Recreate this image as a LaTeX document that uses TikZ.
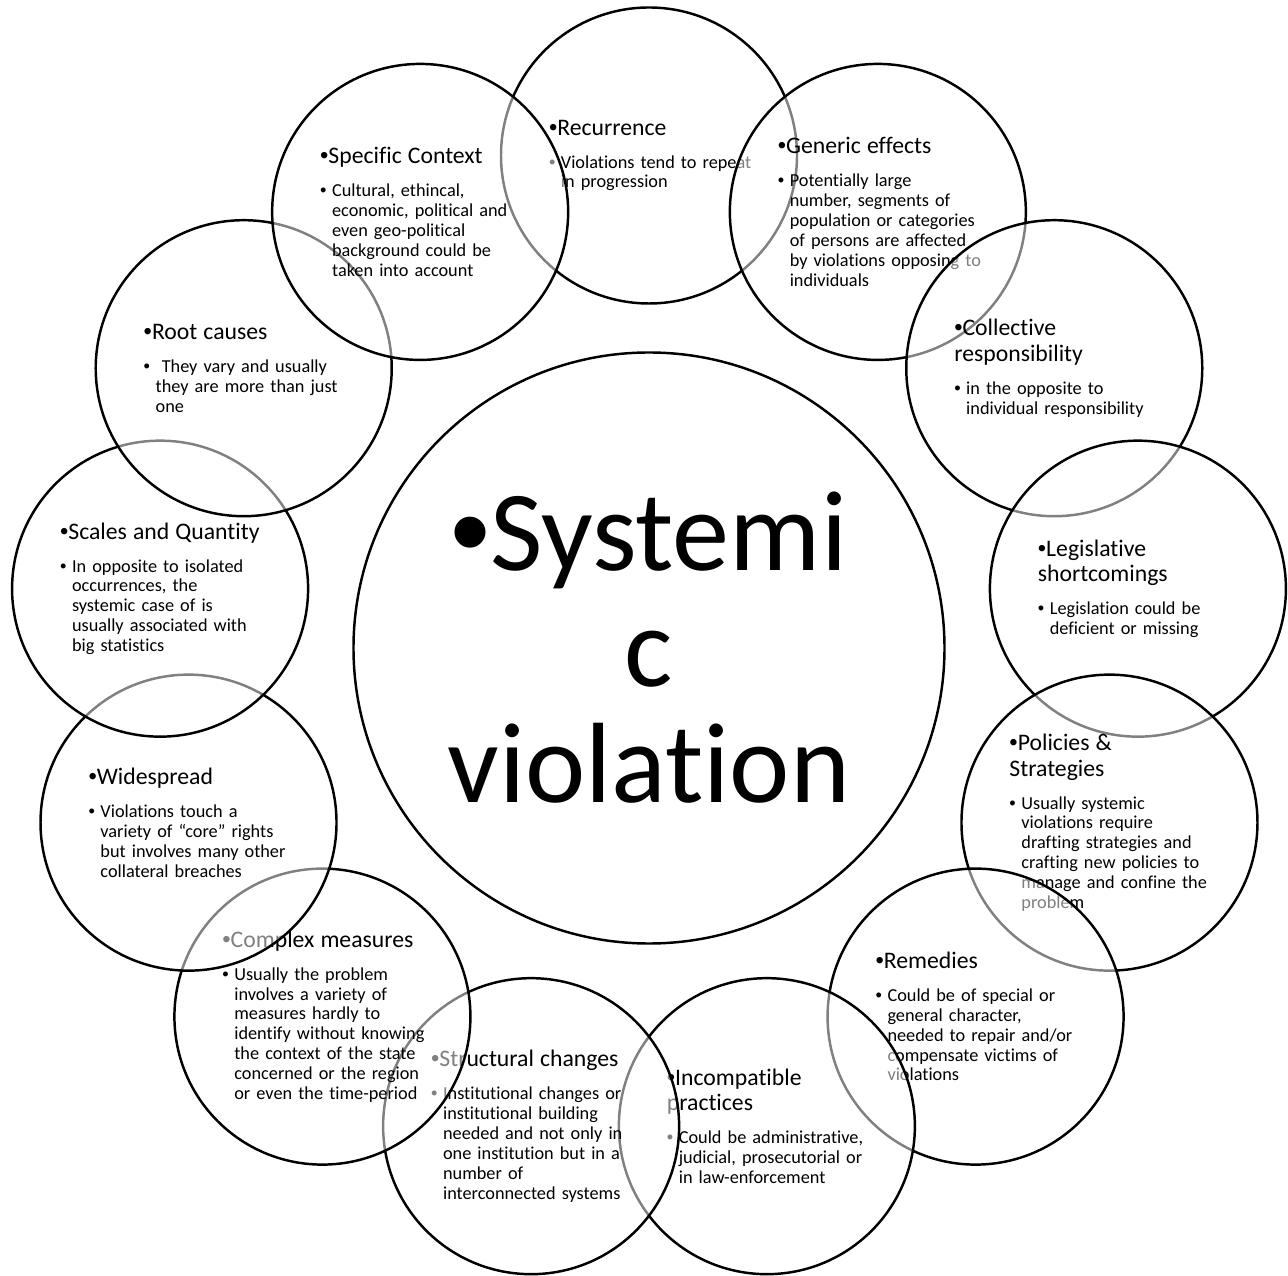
\documentclass[tikz,border=0pt]{standalone}
\usepackage{fontspec}
\setmainfont[Ligatures=NoCommon]{Carlito}
\newfontfamily\dotfont{Liberation Sans}
\newcommand{\dotmark}{{\dotfont •}}
\newcommand{\cyctitle}[1]{{\fontsize{13.5}{14.7}\selectfont\rightskip=0pt plus 1fil minus 1cm\hyphenpenalty=10000\dotmark#1\par}\vspace{7.4pt}}
\newcommand{\cycbody}[1]{{\leftskip=6.8pt\rightskip=0pt plus 1fil minus 1cm\hyphenpenalty=10000\noindent\hspace*{-6.8pt}\makebox[6.8pt][l]{\dotmark}#1\par}}
\tikzset{
    cyc/.style={circle, draw=black, line width=1.4pt, fill=white, fill opacity=0.5, text opacity=1,
        minimum size=5.92cm, inner sep=0pt, text width=4cm, align=left, font=\fontsize{10.4}{11.3}\selectfont},
    hub/.style={circle, draw=black, line width=1.4pt, fill=white, minimum size=11.82cm, inner sep=0pt,
        align=center, font=\fontsize{65}{66}\selectfont}
}
\begin{document}
\begin{tikzpicture}
    \useasboundingbox (-12.98,12.96) rectangle (12.78,-12.54);
    \def\ring{9.85}
    \node[hub] (hub) at (0,0) {\dotmark Systemi\\c\\violation};
    \node[cyc] (recur) at (90:\ring) {\cyctitle{Recurrence}\cycbody{Violations tend to repeat\\in progression}};
    \node[cyc] (generic) at (62.31:\ring) {\cyctitle{Generic effects}\cycbody{Potentially large\\number, segments of\\population or categories\\of persons are affected\\by violations opposing to\\individuals}};
    \node[cyc] (collect) at (34.62:\ring) {\cyctitle{Collective\\responsibility}\cycbody{in the opposite to\\individual responsibility}};
    \node[cyc] (legis) at (6.92:\ring) {\cyctitle{Legislative\\shortcomings}\cycbody{Legislation could be\\deficient or missing}};
    \node[cyc] (policy) at (-20.77:\ring) {\cyctitle{Policies \&\\Strategies}\cycbody{Usually systemic\\violations require\\drafting strategies and\\crafting new policies to\\manage and confine the\\problem}};
    \node[cyc] (remedy) at (-48.46:\ring) {\cyctitle{Remedies}\cycbody{Could be of special or\\general character,\\needed to repair and/or\\compensate victims of\\violations}};
    \node[cyc] (incompat) at (-76.15:\ring) {\cyctitle{Incompatible\\practices}\cycbody{Could be administrative,\\judicial, prosecutorial or\\in law-enforcement}};
    \node[cyc] (struct) at (-103.85:\ring) {\cyctitle{Structural changes}\cycbody{Institutional changes or\\institutional building\\needed and not only in\\one institution but in a\\number of\\interconnected systems}};
    \node[cyc] (complex) at (-131.54:\ring) {\cyctitle{Complex measures}\cycbody{Usually the problem\\involves a variety of\\measures hardly to\\identify without knowing\\the context of the state\\concerned or the region\\or even the time-period}};
    \node[cyc] (wide) at (-159.23:\ring) {\cyctitle{Widespread}\cycbody{Violations touch a\\variety of “core” rights\\but involves many other\\collateral breaches}};
    \node[cyc] (scale) at (173.08:\ring) {\cyctitle{Scales and Quantity}\cycbody{In opposite to isolated\\occurrences, the\\systemic case of is\\usually associated with\\big statistics}};
    \node[cyc] (root) at (145.38:\ring) {\cyctitle{Root causes}\cycbody{\ They vary and usually\\they are more than just\\one}};
    \node[cyc] (context) at (117.69:\ring) {\cyctitle{Specific Context}\cycbody{Cultural, ethincal,\\economic, political and\\even geo-political\\background could be\\taken into account}};
\end{tikzpicture}
\end{document}
